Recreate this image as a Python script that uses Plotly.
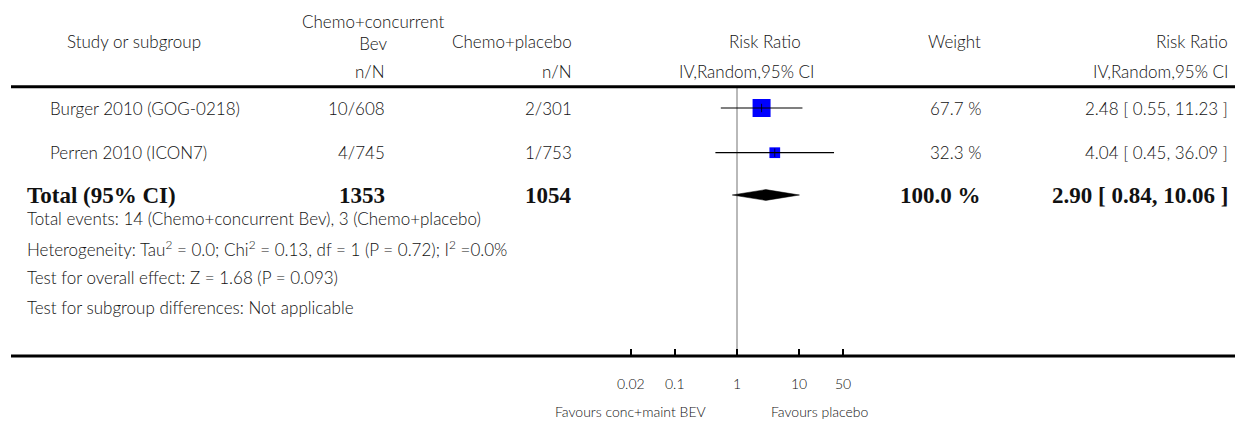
import numpy as np
import plotly.graph_objects as go

# ---------------- data ----------------
studies = ["Burger 2010 (GOG-0218)", "Perren 2010 (ICON7)"]
bev_events = ["10/608", "4/745"]
placebo_events = ["2/301", "1/753"]
weights = [67.7, 32.3]
rr = [2.48, 4.04]
rr_lo = [0.55, 0.45]
rr_hi = [11.23, 36.09]

total_label = "Total (95% CI)"
total_bev = 1353
total_placebo = 1054
total_weight = 100.0
total_rr = 2.90
total_lo = 0.84
total_hi = 10.06

tick_vals = [0.02, 0.1, 1, 10, 50]
tick_text = ["0.02", "0.1", "1", "10", "50"]

footnotes = [
    "Total events: 14 (Chemo+concurrent Bev), 3 (Chemo+placebo)",
    "Heterogeneity: Tau<sup>2</sup> = 0.0; Chi<sup>2</sup> = 0.13, df = 1 (P = 0.72); I<sup>2</sup> =0.0%",
    "Test for overall effect: Z = 1.68 (P = 0.093)",
    "Test for subgroup differences: Not applicable",
]
favours_left = "Favours conc+maint BEV"
favours_right = "Favours placebo"

# ---------------- layout constants (pixels) ----------------
W, H = 1235, 421
SANS = "Lato"
SERIF = "Liberation Serif"
TXT = "#111111"
FS = 17
FS_BOLD = 23
FS_SMALL = 14
LIGHT = 300

row_y = [108, 152.7]
total_y = 195
foot_y = [218.5, 248, 277.5, 307]
hdr1_y, hdr2_y = 41, 71.5
top_line_y, bottom_line_y = 86.7, 356
tick_label_y, favours_y = 383, 411.5

x_name, x_total = 48, 25
x_bev, x_pla, x_wt, x_ci = 387, 574, 983, 1230
plot_right = 894
px_per_decade = 62.3
x_one = 737


def ci_text(e, lo, hi):
    return f"{e:.2f} [ {lo:.2f}, {hi:.2f} ]"


fig = go.Figure()
ann = []


def add_text(text, px, py, anchor="left", size=FS, family=SANS, bold=False, xref="paper"):
    weight = LIGHT
    if bold:
        text = f"<b>{text}</b>"
        weight = "bold"
    x = px / W if xref == "paper" else px
    ann.append(dict(text=text, x=x, xref=xref, y=py, yref="y",
                    xanchor=anchor, yanchor="middle", showarrow=False,
                    font=dict(family=family, size=size, color=TXT, weight=weight)))


# headers
add_text("Study or subgroup", 65, hdr1_y)
add_text("Chemo+concurrent<br>Bev", 373, 32, "center")
add_text("Chemo+placebo", x_pla, hdr1_y, "right")
add_text("Risk Ratio", 765, hdr1_y, "center")
add_text("Weight", x_wt, hdr1_y, "right")
add_text("Risk Ratio", x_ci, hdr1_y, "right")
add_text("n/N", x_bev, hdr2_y, "right")
add_text("n/N", x_pla, hdr2_y, "right")
add_text("IV,Random,95% CI", 746, hdr2_y, "center")
add_text("IV,Random,95% CI", x_ci, hdr2_y, "right")

# study rows
for i, s in enumerate(studies):
    y = row_y[i]
    add_text(s, x_name, y)
    add_text(bev_events[i], x_bev, y, "right")
    add_text(placebo_events[i], x_pla, y, "right")
    add_text(f"{weights[i]:.1f} %", x_wt, y, "right")
    add_text(ci_text(rr[i], rr_lo[i], rr_hi[i]), x_ci, y, "right")

# total row
add_text(total_label, x_total, total_y, size=FS_BOLD, family=SERIF, bold=True)
add_text(str(total_bev), x_bev, total_y, "right", FS_BOLD, SERIF, True)
add_text(str(total_placebo), x_pla, total_y, "right", FS_BOLD, SERIF, True)
add_text(f"{total_weight:.1f} %", x_wt, total_y, "right", FS_BOLD, SERIF, True)
add_text(ci_text(total_rr, total_lo, total_hi), x_ci, total_y, "right", FS_BOLD, SERIF, True)

for t, y in zip(footnotes, foot_y):
    add_text(t, x_total, y, size=FS)

# axis tick labels (log axis annotations take log10 positions)
for v, t in zip(tick_vals, tick_text):
    add_text(t, np.log10(v), tick_label_y, "center", FS_SMALL, xref="x")

add_text(favours_left, 708, favours_y, "right", FS_SMALL)
add_text(favours_right, 769, favours_y, "left", FS_SMALL)

# reference line at RR = 1
fig.add_trace(go.Scatter(x=[1, 1], y=[top_line_y, bottom_line_y], mode="lines",
                         line=dict(color="#a8a8a8", width=1.6), hoverinfo="skip"))

# study boxes
max_w = max(weights)
sizes = [18 * (w / max_w) ** 0.7 for w in weights]
fig.add_trace(go.Scatter(x=rr, y=row_y, mode="markers",
                         marker=dict(symbol="square", size=sizes, color="#0000ff",
                                     opacity=1, line=dict(width=0))))
# CI lines
for i in range(len(studies)):
    fig.add_trace(go.Scatter(x=[rr_lo[i], rr_hi[i]], y=[row_y[i], row_y[i]], mode="lines",
                             line=dict(color="black", width=1.2)))
fig.add_trace(go.Scatter(x=rr, y=row_y, mode="markers",
                         marker=dict(symbol="line-ns", size=6, opacity=1,
                                     line=dict(color="black", width=0.8))))

# total diamond
half_h = 5.4
fig.add_trace(go.Scatter(
    x=[total_lo, total_rr, total_hi, total_rr, total_lo],
    y=[total_y, total_y - half_h, total_y, total_y + half_h, total_y],
    mode="lines", fill="toself", fillcolor="black",
    line=dict(color="black", width=0.5)))

shapes = []
for yy in (top_line_y, bottom_line_y):
    shapes.append(dict(type="line", xref="paper", yref="paper",
                       x0=11 / W, x1=1, y0=1 - yy / H, y1=1 - yy / H,
                       line=dict(color="black", width=3)))

log_half = (plot_right - x_one) / px_per_decade
fig.update_layout(
    width=W, height=H, margin=dict(l=0, r=0, t=0, b=0),
    paper_bgcolor="white", plot_bgcolor="white", showlegend=False,
    annotations=ann, shapes=shapes,
    xaxis=dict(type="log", domain=[(x_one - (plot_right - x_one)) / W, plot_right / W],
               range=[-log_half, log_half], anchor="free", position=1 - bottom_line_y / H,
               tickvals=tick_vals, showticklabels=False, ticks="inside", ticklen=7,
               tickwidth=2, tickcolor="black", showgrid=False, zeroline=False,
               showline=False),
    yaxis=dict(range=[H, 0], domain=[0, 1], visible=False, showgrid=False, zeroline=False),
)

fig.write_html("out.html")
